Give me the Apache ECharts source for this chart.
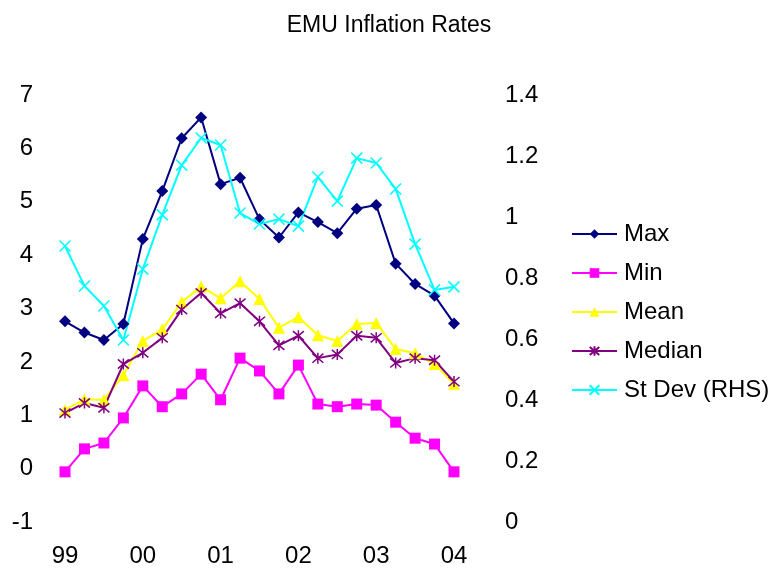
<!DOCTYPE html>
<html>
<head>
<meta charset="utf-8">
<title>EMU Inflation Rates</title>
<script src="https://cdn.jsdelivr.net/npm/echarts@6/dist/echarts.min.js"></script>
<style>
  html, body { margin: 0; padding: 0; background: #fff; }
  #chart { width: 778px; height: 571px; }
</style>
</head>
<body>
<div id="chart"></div>
<script>
// quarterly, 1999 Q1 .. 2004 Q1
const quarters = [
  '99Q1', '99Q2', '99Q3', '99Q4',
  '00Q1', '00Q2', '00Q3', '00Q4',
  '01Q1', '01Q2', '01Q3', '01Q4',
  '02Q1', '02Q2', '02Q3', '02Q4',
  '03Q1', '03Q2', '03Q3', '03Q4',
  '04Q1'
]

const maxRate = [2.76, 2.55, 2.41, 2.71, 4.30, 5.20, 6.19, 6.58, 5.33, 5.45, 4.67,
  4.33, 4.80, 4.62, 4.41, 4.87, 4.94, 3.84, 3.46, 3.24, 2.72]
const minRate = [-0.06, 0.37, 0.48, 0.95, 1.55, 1.16, 1.40, 1.77, 1.29, 2.07, 1.83,
  1.40, 1.94, 1.21, 1.16, 1.21, 1.19, 0.87, 0.57, 0.46, -0.06]
const meanRate = [1.10, 1.30, 1.29, 1.75, 2.39, 2.61, 3.12, 3.41, 3.19, 3.51, 3.18,
  2.64, 2.84, 2.50, 2.39, 2.71, 2.73, 2.24, 2.16, 1.96, 1.59]
const medianRate = [1.04, 1.23, 1.14, 1.96, 2.17, 2.45, 2.98, 3.29, 2.91, 3.10, 2.76,
  2.31, 2.49, 2.07, 2.14, 2.49, 2.45, 1.98, 2.07, 2.03, 1.63]
const stDev = [0.905, 0.774, 0.708, 0.597, 0.829, 1.007, 1.170, 1.259, 1.236, 1.013, 0.977,
  0.993, 0.970, 1.131, 1.052, 1.193, 1.177, 1.092, 0.911, 0.761, 0.771]

const FONT = 'Liberation Sans, Arial, sans-serif'

// excel-ish markers drawn as strokes
const crossPath = 'path://M0,0L10,10M10,0L0,10'
const starPath = 'path://M0,0L10,10M10,0L0,10M5,-1L5,11'

const chart = echarts.init(document.getElementById('chart'))

const mkSeries = (name, data, color, symbol, size, extra = {}) => ({
  name: name,
  type: 'line',
  data: data,
  symbol: symbol,
  symbolSize: size,
  showAllSymbol: true,
  animation: false,
  lineStyle: { color: color, width: 2 },
  itemStyle: { color: color },
  ...extra
})

const option = {
  animation: false,
  backgroundColor: '#fff',
  title: {
    text: 'EMU Inflation Rates',
    left: 'center',
    top: 9,
    textStyle: { fontFamily: FONT, fontSize: 23, fontWeight: 'normal', color: '#000' }
  },
  legend: {
    orient: 'vertical',
    left: 571,
    top: 222,
    padding: 0,
    itemWidth: 45,
    itemHeight: 12,
    itemGap: 15,
    textStyle: { fontFamily: FONT, fontSize: 24, color: '#000', padding: [0, 0, 0, 2] },
    data: ['Max', 'Min', 'Mean', 'Median', 'St Dev (RHS)']
  },
  grid: { left: 65, right: 324, top: 95, bottom: 49 },
  xAxis: {
    type: 'category',
    boundaryGap: false,
    data: quarters,
    axisLine: { show: false },
    axisTick: { show: false },
    splitLine: { show: false },
    axisLabel: {
      interval: 3,
      margin: 22,
      fontFamily: FONT,
      fontSize: 24,
      color: '#000',
      formatter: (v) => v.slice(0, 2)
    }
  },
  yAxis: [
    {
      type: 'value',
      min: -1,
      max: 7,
      interval: 1,
      axisLine: { show: false },
      axisTick: { show: false },
      splitLine: { show: false },
      axisLabel: { margin: 32, fontFamily: FONT, fontSize: 24, color: '#000' }
    },
    {
      type: 'value',
      position: 'right',
      min: 0,
      max: 1.4,
      interval: 0.2,
      axisLine: { show: false },
      axisTick: { show: false },
      splitLine: { show: false },
      axisLabel: {
        margin: 51,
        fontFamily: FONT,
        fontSize: 24,
        color: '#000',
        formatter: (v) => String(Math.round(v * 10) / 10)
      }
    }
  ],
  series: [
    mkSeries('Max', maxRate, '#000080', 'diamond', 12),
    mkSeries('Min', minRate, '#FF00FF', 'rect', 11),
    mkSeries('Mean', meanRate, '#FFFF00', 'triangle', 12),
    mkSeries('Median', medianRate, '#800080', starPath, 11, {
      itemStyle: { color: '#800080', borderColor: '#800080', borderWidth: 1.5 }
    }),
    mkSeries('St Dev (RHS)', stDev, '#00FFFF', crossPath, 11, {
      yAxisIndex: 1,
      itemStyle: { color: '#00FFFF', borderColor: '#00FFFF', borderWidth: 1.5 }
    })
  ]
}

chart.setOption(option)
</script>
</body>
</html>
